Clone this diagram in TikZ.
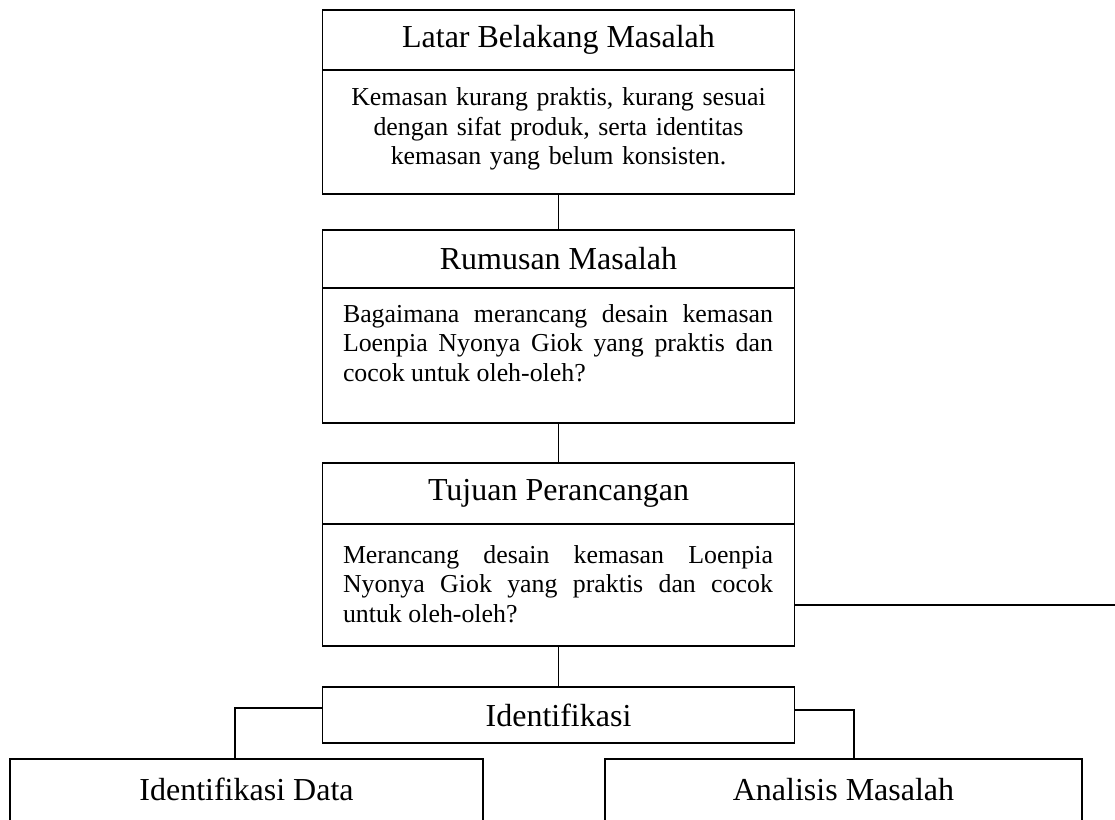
\documentclass[tikz,border=0pt]{standalone}
\usepackage{fontspec}
\setmainfont{Liberation Serif}
\begin{document}
\begin{tikzpicture}[x=0.75pt,y=-0.75pt,
  box/.style={draw,line width=1pt,inner sep=0pt,rectangle},
  headtxt/.style={font=\fontsize{24}{27}\selectfont},
  bodytxt/.style={inner sep=0pt,text width=322.5pt,font=\fontsize{19.4}{22.3}\selectfont},
  conn/.style={line width=1pt}]
\useasboundingbox (0,0) rectangle (1115,819);
\hyphenpenalty=10000
% Box 1
\node[box,headtxt,minimum width=354pt,minimum height=45pt] (h1) at (558.5,40) {Latar Belakang Masalah};
\node[box,minimum width=354pt,minimum height=93pt] (b1) at (558.5,132) {};
\node[bodytxt,align=center] (t1) at (558.5,129) {Kemasan kurang praktis, kurang sesuai\\dengan sifat produk, serta identitas\\kemasan yang belum konsisten.};
% Box 2
\node[box,headtxt,minimum width=354pt,minimum height=43.5pt] (h2) at (558.5,259) {Rumusan Masalah};
\node[box,minimum width=354pt,minimum height=101.25pt] (b2) at (558.5,355.5) {};
\node[bodytxt,align=justify] (t2) at (558,343) {Bagaimana merancang desain kemasan\linebreak Loenpia Nyonya Giok yang praktis dan\linebreak cocok untuk oleh-oleh?};
% Box 3
\node[box,headtxt,minimum width=354pt,minimum height=45.75pt] (h3) at (558.5,493.5) {Tujuan Perancangan};
\node[box,minimum width=354pt,minimum height=91.5pt] (b3) at (558.5,585) {};
\node[bodytxt,align=justify] (t3) at (558,584) {Merancang desain kemasan Loenpia\linebreak Nyonya Giok yang praktis dan cocok\linebreak untuk oleh-oleh?};
% Identifikasi
\node[box,headtxt,minimum width=354pt,minimum height=42pt] (id) at (558.5,715) {Identifikasi};
% Children
\node[box,minimum width=354.75pt,minimum height=100pt] (c1) at (246.5,825.67) {};
\node[headtxt,anchor=base] (c1t) at (246.5,800) {Identifikasi Data};
\node[box,minimum width=357.75pt,minimum height=100pt] (c2) at (843.5,825.67) {};
\node[headtxt,anchor=base] (c2t) at (843.5,800) {Analisis Masalah};
% connectors
\coordinate (rend) at (1115,605);
\coordinate (c1top) at (235,759);
\coordinate (c2top) at (854,759);
\draw[conn] (b1.south) -- (h2.north);
\draw[conn] (b2.south) -- (h3.north);
\draw[conn] (b3.south) -- (id.north);
\draw[line width=1.4pt] (b3.east |- rend) -- (rend);
\draw[conn] ([yshift=5.25pt]id.west) -| (c1top);
\draw[conn] ([yshift=3.75pt]id.east) -| (c2top);
\end{tikzpicture}
\end{document}
